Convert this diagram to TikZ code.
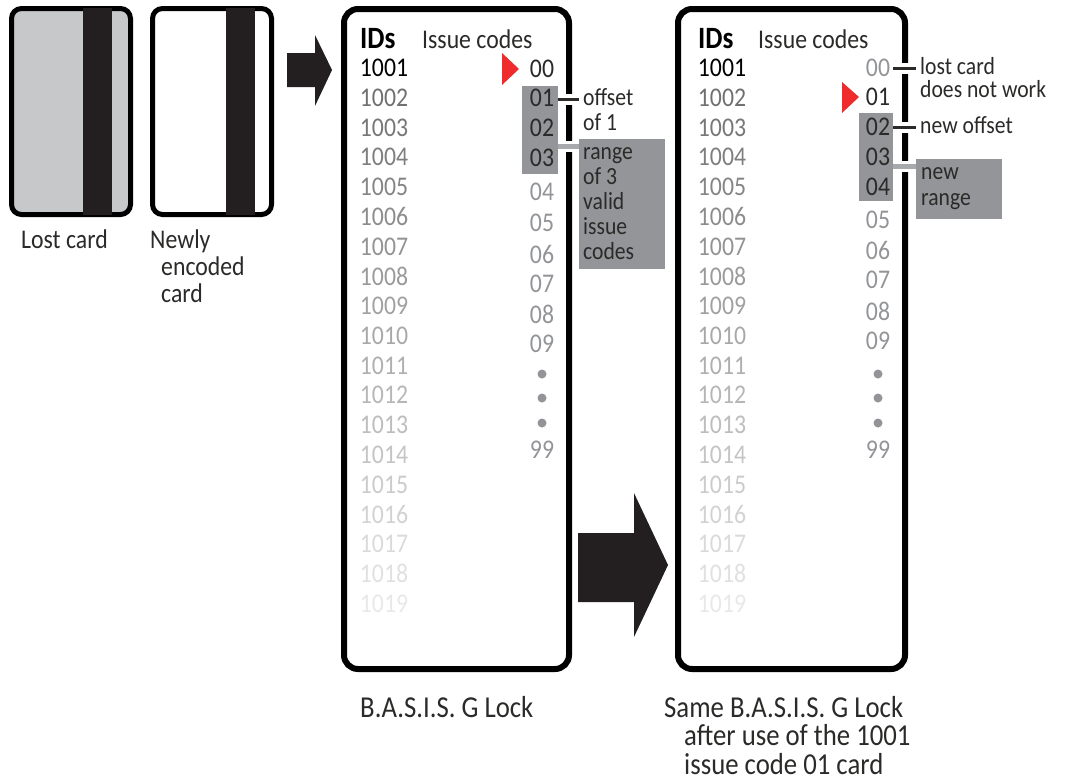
\documentclass[tikz,border=0pt]{standalone}
\usepackage{fontspec}
\setmainfont[FakeStretch=0.88]{Carlito}
\usetikzlibrary{calc}
\definecolor{inkdark}{HTML}{2B2A29}
\definecolor{stripe}{HTML}{231F20}
\definecolor{boxgray}{HTML}{939598}
\definecolor{codegray}{HTML}{929497}
\definecolor{leadlight}{HTML}{A7A9AC}
\definecolor{cardgray}{HTML}{C7C8CA}
\definecolor{pointer}{HTML}{EF2B2D}
\tikzset{
	every node/.style={inner sep=0pt,text=inkdark,font=\fontsize{27}{27}\selectfont},
	caption/.style={anchor=north west,align=left},
	note/.style={anchor=north west,align=left,font=\fontsize{24.6}{25}\selectfont},
	bigcaption/.style={anchor=north west,align=left,font=\fontsize{30.4}{28.5}\selectfont},
	heading/.style={anchor=west,text=black,font=\fontsize{31}{31}\selectfont\bfseries},
	code/.style={text=codegray},
	cardedge/.style={draw=black,line width=5pt,rounded corners=10pt},
	lockedge/.style={draw=black,line width=6pt,rounded corners=14pt},
	bigarrow/.style={fill=stripe},
	leaddark/.style={draw=inkdark,line width=3pt,shorten >=4pt,preaction={draw=white,line width=11pt}},
	leadgray/.style={draw=leadlight,line width=5pt,preaction={draw=white,line width=11pt}}
}
\begin{document}
\begin{tikzpicture}[x=1pt,y=-1pt]
	\useasboundingbox (0,0) rectangle (1065,782);
	% cards
	\draw[cardedge,fill=cardgray] (11.5,8.5) rectangle (130.5,214.5);
	\fill[stripe] (83,8) rectangle (112,215);
	\draw[cardedge] (152.5,8.5) rectangle (271.5,214.5);
	\fill[stripe] (226,8) rectangle (255,215);
	\node[caption] (lostcard) at (21,230) {Lost card};
	\node[caption] (newcard) at (150,230) {Newly\\\hspace*{11pt}encoded\\\hspace*{11pt}card};
	% arrows
	\fill[bigarrow] (287,53) -- (315,53) -- (315,35) -- (332,70) -- (315,106) -- (315,87) -- (287,87) -- cycle;
	\fill[bigarrow] (578,533) -- (634,533) -- (634,493) -- (668,565) -- (634,637) -- (634,602) -- (578,602) -- cycle;
	% locks
	\draw[lockedge] (344,9) rectangle (569,669);
	\draw[lockedge] (678,9) rectangle (905,669);
	\fill[boxgray] (522,86) rectangle (558,174);
	\fill[boxgray] (859,113) rectangle (893,201);
	\node[minimum width=86pt,minimum height=130pt,fill=boxgray,anchor=north west] (boxrangeA) at (579,139) {};
	\node[minimum width=86pt,minimum height=60pt,fill=boxgray,anchor=north west] (boxrangeB) at (916,159) {};
	% headings
	\node[heading] (idsA) at (360,39) {IDs};
	\node[anchor=west] (issueA) at (422,39) {Issue codes};
	\node[heading] (idsB) at (698,39) {IDs};
	\node[anchor=west] (issueB) at (758,39) {Issue codes};
	% id columns
	\node[text=black] (idA1) at (384,68) {1001};
	\node[text=black] (idB1) at (722,68) {1001};
	\foreach \n [evaluate=\n as \y using {68+(\n-1)*29.75},
				 evaluate=\n as \pct using {56-(\n-2)*2.75},
				 evaluate=\n as \num using {int(1000+\n)}] in {2,...,19}{
		\node[text=black!\pct] (idA\n) at (384,\y) {\num};
		\node[text=black!\pct] (idB\n) at (722,\y) {\num};
	}
	% code columns
	\foreach \t/\y in {04/192,05/223,06/254,07/284,08/314,09/344,99/450}
		\node[code] (codeA\t) at (542,\y) {\t};
	\foreach \t/\y in {00/69,01/98,02/128,03/158}
		\node (codeA\t) at (542,\y) {\t};
	\foreach \t/\y in {00/68,05/220,06/250,07/280,08/311,09/341,99/450}
		\node[code] (codeB\t) at (878,\y) {\t};
	\foreach \t/\y in {01/97,02/127,03/157,04/187}
		\node (codeB\t) at (878,\y) {\t};
	\foreach \y in {374,398,423}{
		\fill[codegray] (542,\y) circle (4.5pt);
		\fill[codegray] (878,\y) circle (4.5pt);
	}
	\fill[pointer] (502,53) -- (519,69) -- (502,85) -- cycle;
	\fill[pointer] (842,82) -- (859,97) -- (842,113) -- cycle;
	% labels
	\node[note] (lbloffset) at (583,88) {offset\\of 1};
	\node[note] (lblrange) at (583,147) {range\\of 3\\valid\\issue\\codes};
	\node[note] (lbllost) at (920,57) {lost card\\[-2pt]does not work};
	\node[note] (lblnewoffset) at (920,116) {new offset};
	\node[note] (lblnewrange) at (921,167) {new\\[1pt]range};
	\coordinate (leadA) at (558,99);
	\coordinate (leadB) at (558,146);
	\coordinate (leadC) at (893,68);
	\coordinate (leadD) at (893,127);
	\coordinate (leadE) at (893,166);
	\draw[leaddark] (leadA) -- (leadA -| lbloffset.west);
	\draw[leadgray] (leadB) -- (leadB -| boxrangeA.west);
	\draw[leaddark] (leadC) -- (leadC -| lbllost.west);
	\draw[leaddark] (leadD) -- (leadD -| lblnewoffset.west);
	\draw[leadgray] (leadE) -- (leadE -| boxrangeB.west);
	% captions
	\node[bigcaption] (capA) at (360,696) {B.A.S.I.S. G Lock};
	\node[bigcaption] (capB) at (664,696) {Same B.A.S.I.S. G Lock\\\hspace*{20pt}after use of the 1001\\\hspace*{20pt}issue code 01 card};
\end{tikzpicture}
\end{document}
